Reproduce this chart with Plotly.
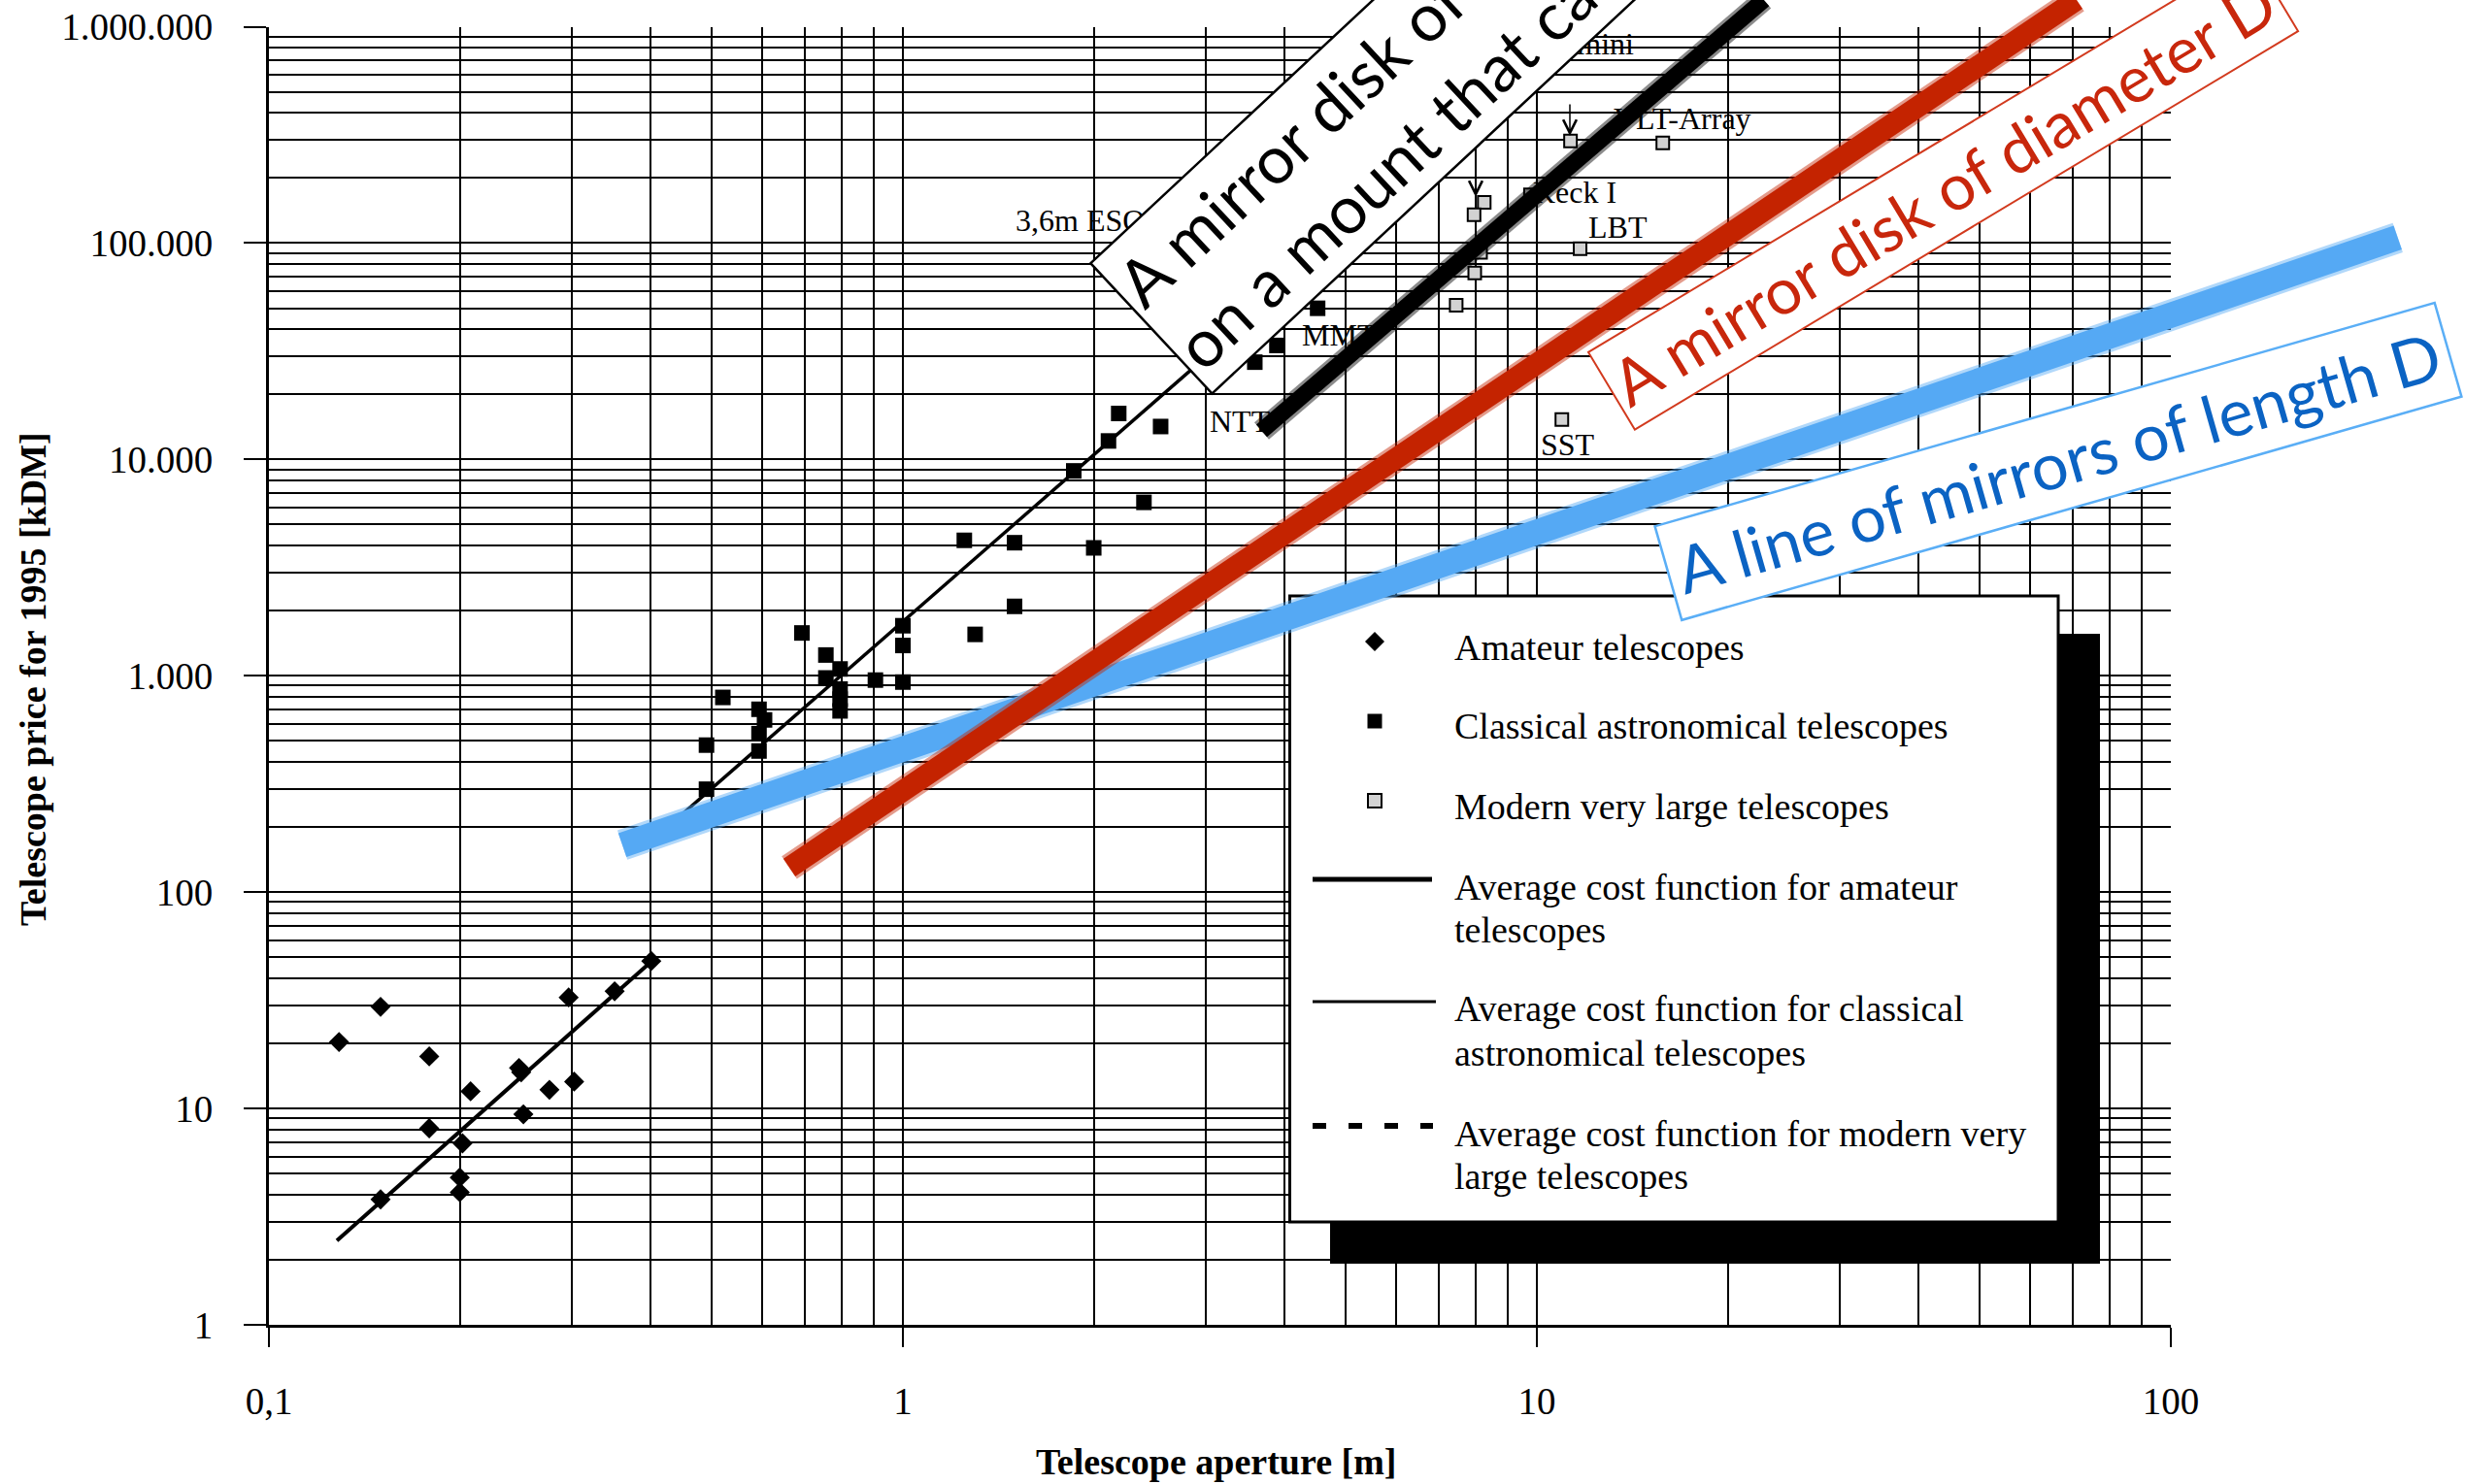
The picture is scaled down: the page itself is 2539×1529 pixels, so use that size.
import plotly.graph_objects as go

W, H = 2539, 1529
PLOT_L, PLOT_R, PLOT_T, PLOT_B = 277, 2236, 27.5, 1365

# ---------------- data ----------------
amateur_d = [0.129, 0.150, 0.179, 0.208, 0.179, 0.202, 0.200, 0.200, 0.150,
             0.248, 0.250, 0.277, 0.252, 0.297, 0.303, 0.351, 0.401]
amateur_p = [20.3, 29.5, 17.4, 12.0, 8.1, 6.9, 4.8, 4.1, 3.8,
             15.4, 14.7, 12.2, 9.4, 32.6, 13.3, 34.8, 48.0]

classical_d = [0.49, 0.49, 0.52, 0.593, 0.605, 0.593, 0.593, 0.693, 0.756, 0.796,
               0.756, 0.796, 0.796, 0.796, 0.905, 1.0, 1.0, 1.0, 1.25, 1.30,
               1.50, 1.50, 1.86, 2.0, 2.11, 2.19, 2.40, 2.55, 3.59, 3.89, 4.51]
classical_p = [478, 299, 794, 700, 625, 540, 449, 1577, 1247, 1075,
               977, 868, 780, 688, 955, 1703, 1380, 935, 4226, 1553,
               4120, 2093, 8850, 3900, 12170, 16300, 6330, 14190, 28150, 33630, 49940]

modern_d = [8.26, 7.96, 8.15, 7.98, 7.46, 11.3, 15.8, 11.7, 10.95, 9.77]
modern_p = [154000, 135000, 90600, 72800, 51600, 296000, 290000, 94200, 15300, 167000]

# average cost functions (end points of the straight fits)
amateur_fit_d = [0.128, 0.401]
amateur_fit_p = [2.45, 47.8]
classical_fit_d = [0.444, 4.5]
classical_fit_p = [223, 83600]
modern_fit_d = [3.68, 20.0]
modern_fit_p = [13550, 964000]

# hand-drawn overlay lines (end points)
sketch_black_d = [3.68, 22.8]
sketch_black_p = [13550, 1.33e6]
sketch_red_d = [0.662, 71.0]
sketch_red_p = [130, 1.33e6]
sketch_blue_d = [0.361, 228]
sketch_blue_p = [165, 106000]

x_tickvals = [0.1, 1, 10, 100]
x_ticktext = ["0,1", "1", "10", "100"]
y_tickvals = [1, 10, 100, 1000, 10000, 100000, 1000000]
y_ticktext = ["1", "10", "100", "1.000", "10.000", "100.000", "1.000.000"]

telescope_labels = ["3,6m ESO", "NTT", "MMT", "Keck I", "LBT", "VLT-Array", "SST", "Gemini"]

legend_texts = ["Amateur telescopes", "Classical astronomical telescopes", "Modern very large telescopes",
                "Average cost function for amateur", "telescopes",
                "Average cost function for classical", "astronomical telescopes",
                "Average cost function for modern very", "large telescopes"]

box_black_text = "A mirror disk of diameter D<br>on a mount that can point"
box_red_text = "A mirror disk of diameter D"
box_blue_text = "A line of mirrors of length D"

x_minor = [m * 10.0 ** e for e in (-1, 0, 1) for m in range(2, 10)]
y_minor = [m * 10.0 ** e for e in range(0, 6) for m in range(2, 10)]

# ---------------- layout geometry ----------------
dec_x = (PLOT_R - PLOT_L) / 3.0
dec_y = (PLOT_B - PLOT_T) / 6.0
x3_range = [-1 - PLOT_L / dec_x, 2 + (W - PLOT_R) / dec_x]
y3_range = [0 - (H - PLOT_B) / dec_y, 6 + PLOT_T / dec_y]

SERIF = "Liberation Serif"
SANS = "Lato"

fig = go.Figure()

# fits
fig.add_trace(go.Scatter(x=amateur_fit_d, y=amateur_fit_p, mode="lines",
                         line=dict(color="black", width=4)))
fig.add_trace(go.Scatter(x=classical_fit_d, y=classical_fit_p, mode="lines",
                         line=dict(color="black", width=3.5)))
fig.add_trace(go.Scatter(x=modern_fit_d, y=modern_fit_p, mode="lines",
                         line=dict(color="black", width=4, dash="dash")))
# points
fig.add_trace(go.Scatter(x=amateur_d, y=amateur_p, mode="markers",
                         marker=dict(symbol="diamond", size=16, color="black")))
fig.add_trace(go.Scatter(x=classical_d, y=classical_p, mode="markers",
                         marker=dict(symbol="square", size=16, color="black")))
fig.add_trace(go.Scatter(x=modern_d, y=modern_p, mode="markers",
                         marker=dict(symbol="square", size=13, color="#d2d2d2",
                                     line=dict(color="black", width=2))))

# telescope name labels (pixel overlay)
label_x = [1046, 1246, 1341, 1579, 1636, 1662, 1587, 1683]
label_y = [230, 437, 348, 201, 237, 125, 461, 48]
label_pos = ["middle right"] * 7 + ["middle left"]
fig.add_trace(go.Scatter(x=label_x, y=label_y, text=telescope_labels, mode="text",
                         textposition=label_pos,
                         textfont=dict(family=SERIF, size=32, color="black"),
                         xaxis="x2", yaxis="y2"))

# hand-drawn lines (soft edge + solid core)
for d, p, col, w in [(sketch_blue_d, sketch_blue_p, "#55A9F4", 26),
                     (sketch_red_d, sketch_red_p, "#C42300", 22),
                     (sketch_black_d, sketch_black_p, "black", 17)]:
    fig.add_trace(go.Scatter(x=d, y=p, mode="lines", opacity=0.45,
                             line=dict(color=col, width=w + 6), xaxis="x3", yaxis="y3"))
    fig.add_trace(go.Scatter(x=d, y=p, mode="lines",
                             line=dict(color=col, width=w), xaxis="x3", yaxis="y3"))

# ---------------- legend (drawn manually) ----------------
shapes = []
def pshape(**kw):
    kw.setdefault("xref", "x2")
    kw.setdefault("yref", "y2")
    kw.setdefault("layer", "below")
    shapes.append(kw)

pshape(type="rect", x0=1370, x1=2163, y0=653, y1=1302, fillcolor="black", line=dict(width=0))
pshape(type="rect", x0=1328.5, x1=2120, y0=614, y1=1259, fillcolor="white",
       line=dict(color="black", width=3))
pshape(type="path", path="M 1406 661 L 1416 651 L 1426 661 L 1416 671 Z",
       fillcolor="black", line=dict(width=0))
pshape(type="rect", x0=1408.5, x1=1423.5, y0=735.5, y1=750.5, fillcolor="black", line=dict(width=0))
pshape(type="rect", x0=1409, x1=1423, y0=818, y1=832, fillcolor="#d2d2d2",
       line=dict(color="black", width=2))
pshape(type="line", x0=1352, x1=1475, y0=906, y1=906, line=dict(color="black", width=5))
pshape(type="line", x0=1352, x1=1479, y0=1032, y1=1032, line=dict(color="black", width=3))
pshape(type="line", x0=1352, x1=1476, y0=1160, y1=1160,
       line=dict(color="black", width=6, dash="14px,23px"))

annotations = []
legend_y = [667, 748, 831, 913.5, 958, 1039, 1085, 1167.5, 1211.6]
for t, yy in zip(legend_texts, legend_y):
    annotations.append(dict(xref="x2", yref="y2", x=1496, y=yy, text=t, showarrow=False,
                            xanchor="left", yanchor="middle",
                            font=dict(family=SERIF, size=38, color="black")))

# arrows to VLT points
annotations.append(dict(xref="x2", yref="y2", x=1520, y=203, ax=0, ay=-48, text="",
                        showarrow=True, arrowhead=5, arrowsize=1.8, arrowwidth=1.5,
                        arrowcolor="black", axref="pixel", ayref="pixel"))
annotations.append(dict(xref="x2", yref="y2", x=1617, y=140, ax=0, ay=-34, text="",
                        showarrow=True, arrowhead=5, arrowsize=1.8, arrowwidth=1.5,
                        arrowcolor="black", axref="pixel", ayref="pixel"))

# axis titles
annotations.append(dict(xref="x2", yref="y2", x=1252, y=1506, text="<b>Telescope aperture [m]</b>",
                        showarrow=False, xanchor="center", yanchor="middle",
                        font=dict(family=SERIF, size=38, color="black")))
annotations.append(dict(xref="x2", yref="y2", x=34, y=700, text="<b>Telescope price for 1995 [kDM]</b>",
                        showarrow=False, xanchor="center", yanchor="middle", textangle=-90,
                        font=dict(family=SERIF, size=38, color="black")))

# rotated hand-made comment boxes
annotations.append(dict(xref="x2", yref="y2", x=1121.7, y=406.7, xanchor="left", yanchor="bottom",
                        text=box_black_text, textangle=-43, align="left", showarrow=False,
                        font=dict(family=SANS, size=68, color="black"),
                        bgcolor="white", bordercolor="black", borderwidth=2.5, borderpad=6))
annotations.append(dict(xref="x2", yref="y2", x=1634.6, y=443.9, xanchor="left", yanchor="bottom",
                        text=box_red_text, textangle=-31, showarrow=False,
                        font=dict(family=SANS, size=66, color="#C8270C"),
                        bgcolor="white", bordercolor="#D23A1E", borderwidth=2, borderpad=6))
annotations.append(dict(xref="x2", yref="y2", x=1702.7, y=640.5, xanchor="left", yanchor="bottom",
                        text=box_blue_text, textangle=-16, showarrow=False,
                        font=dict(family=SANS, size=67, color="#0B63C3"),
                        bgcolor="white", bordercolor="#5AAEF6", borderwidth=2.5, borderpad=9))

tickfont = dict(family=SERIF, size=39, color="black")
common = dict(type="log", tickmode="array", ticks="outside", tickwidth=2, tickcolor="black",
              showline=True, linewidth=3, linecolor="black", showgrid=True, gridcolor="black",
              gridwidth=2, zeroline=False, tickfont=tickfont, automargin=False)

fig.update_layout(
    width=W, height=H, autosize=False,
    margin=dict(l=0, r=0, t=0, b=0, pad=0, autoexpand=False),
    paper_bgcolor="white", plot_bgcolor="rgba(0,0,0,0)", showlegend=False,
    xaxis=dict(range=[-1, 2], domain=[PLOT_L / W, PLOT_R / W], anchor="y",
               tickvals=x_tickvals, ticktext=x_ticktext, ticklen=20, ticklabelstandoff=22,
               minor=dict(tickmode="array", tickvals=x_minor, showgrid=True, gridcolor="black",
                          gridwidth=1.5, ticks=""), **common),
    yaxis=dict(range=[0, 6], domain=[(H - PLOT_B) / H, (H - PLOT_T) / H], anchor="x",
               tickvals=y_tickvals, ticktext=y_ticktext, ticklen=23, ticklabelstandoff=24,
               minor=dict(tickmode="array", tickvals=y_minor, showgrid=True, gridcolor="black",
                          gridwidth=1.5, ticks=""), **common),
    xaxis2=dict(range=[0, W], domain=[0, 1], anchor="y2", visible=False, showgrid=False,
                zeroline=False, automargin=False),
    yaxis2=dict(range=[H, 0], domain=[0, 1], anchor="x2", visible=False, showgrid=False,
                zeroline=False, automargin=False),
    xaxis3=dict(type="log", range=x3_range, domain=[0, 1], anchor="y3", visible=False,
                showgrid=False, zeroline=False, automargin=False),
    yaxis3=dict(type="log", range=y3_range, domain=[0, 1], anchor="x3", visible=False,
                showgrid=False, zeroline=False, automargin=False),
    shapes=shapes,
    annotations=annotations,
)

fig.write_html("out.html")
